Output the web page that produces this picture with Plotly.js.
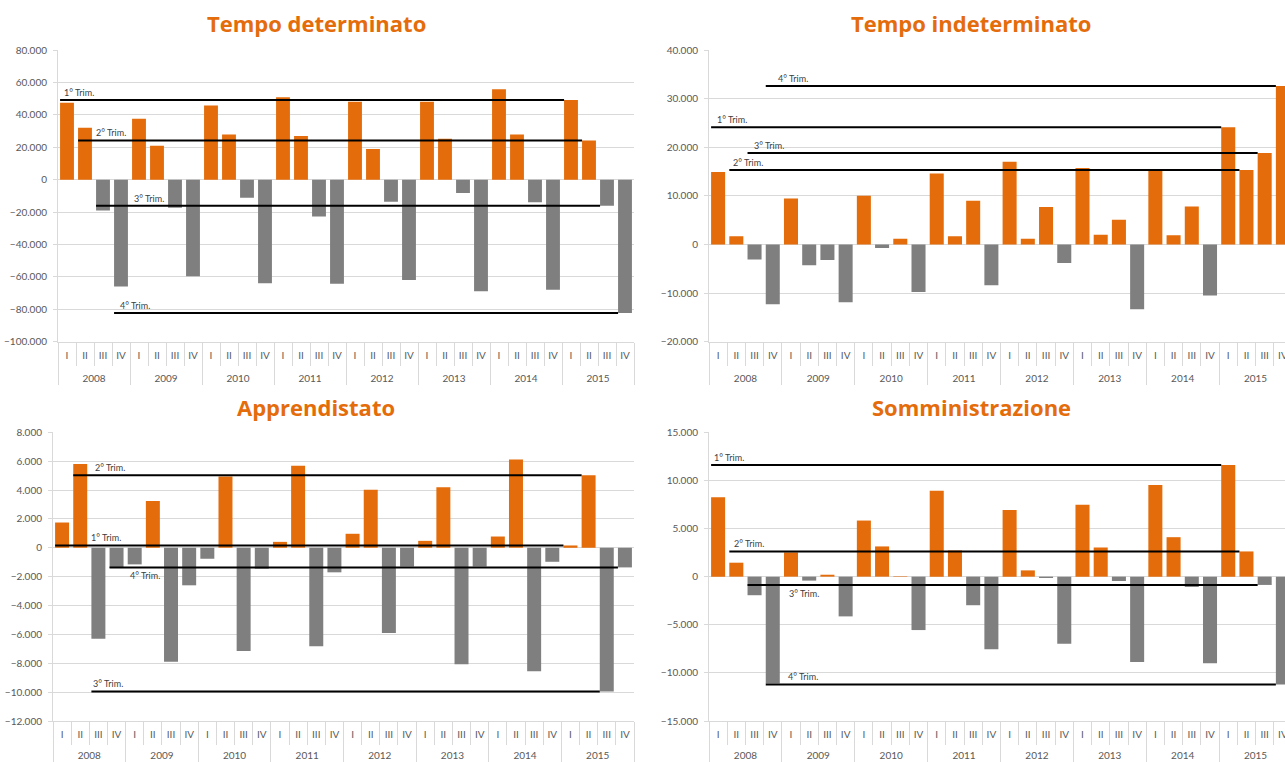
<!DOCTYPE html>
<html>
<head>
<meta charset="utf-8">
<script src="https://cdn.plot.ly/plotly-3.0.1.min.js"></script>
<style>
html,body{margin:0;padding:0;overflow:hidden;background:#fff}
#chart{width:1300px;height:762px}
</style>
</head>
<body>
<div id="chart"></div>
<script>
// ---- data ----
const years = ['2008','2009','2010','2011','2012','2013','2014','2015'];
const quarters = ['I','II','III','IV'];
const trimLabels = ['1° Trim.','2° Trim.','3° Trim.','4° Trim.'];
const titles = ['Tempo determinato','Tempo indeterminato','Apprendistato','Somministrazione'];

const tempoDeterminato = [47500, 32000, -19000, -66000, 37500, 20900, -17300, -59600,
  45700, 27900, -11100, -63900, 50900, 26900, -22700, -64300,
  48000, 18900, -13600, -61900, 48000, 25200, -8200, -68900,
  55800, 27900, -14000, -68000, 49200, 24200, -16100, -82300];
const tempoIndeterminato = [14900, 1700, -3100, -12300, 9450, -4300, -3200, -11900,
  10000, -750, 1200, -9800, 14600, 1700, 9000, -8400,
  17000, 1200, 7700, -3800, 15750, 2000, 5100, -13300,
  15200, 1900, 7800, -10500, 24100, 15300, 18800, 32600];
const apprendistato = [1750, 5800, -6300, -1400, -1150, 3240, -7900, -2600,
  -760, 4940, -7150, -1450, 410, 5680, -6830, -1700,
  970, 4020, -5900, -1300, 480, 4200, -8070, -1300,
  780, 6110, -8550, -970, 160, 5030, -9950, -1360];
const somministrazione = [8240, 1450, -1930, -11100, 2520, -410, 200, -4130,
  5830, 3140, 50, -5550, 8930, 2720, -2970, -7550,
  6930, 650, -140, -6970, 7480, 3030, -450, -8860,
  9520, 4100, -1070, -9000, 11590, 2620, -860, -11200];

// ---- layout config (positions / styles) ----
const W = 1300, H = 762;
const ORANGE = '#E46C0A', GREY = '#7F7F7F', GRID = '#D9D9D9', TXT = '#595959';
const BARGAP = 0.23;
const panels = [
  {values: tempoDeterminato, range: [-100000, 80000], dtick: 20000,
   box: [58, 634, 50, 341.7], titlePos: [316, 23], yearLen: 27,
   labelShift: [2, 16, 36, 4], labelSide: ['above','above','above','above']},
  {values: tempoIndeterminato, range: [-20000, 40000], dtick: 10000,
   box: [709, 1292, 50, 341.7], titlePos: [971, 23], yearLen: 27,
   labelShift: [4, 2, 4, 10], labelSide: ['above','above','above','above']},
  {values: apprendistato, range: [-12000, 8000], dtick: 2000,
   box: [53, 634, 432.3, 721], titlePos: [316, 407], yearLen: 25,
   labelShift: [34, 20, 0, 18], labelSide: ['above','above','above','below']},
  {values: somministrazione, range: [-15000, 15000], dtick: 5000,
   box: [709, 1292, 432.3, 721], titlePos: [971, 407], yearLen: 25,
   labelShift: [1, 3, 39, 20], labelSide: ['above','above','below','above']}
];

const nCat = years.length * quarters.length;
const idx = [], qText = [];
years.forEach((y, yi) => quarters.forEach((q, qi) => { idx.push(yi * quarters.length + qi); qText.push(q); }));
const bounds = []; for (let k = 0; k <= nCat; k++) bounds.push(k - 0.5);
const yearCenters = years.map((y, yi) => yi * quarters.length + (quarters.length - 1) / 2);
const yearBounds = []; for (let k = 0; k <= years.length; k++) yearBounds.push(k * quarters.length - 0.5);
const half = (1 - BARGAP) / 2;

const tickFont = {family: 'Lato, "Open Sans", sans-serif', size: 10, color: TXT};
const data = [];
const layout = {
  width: W, height: H, margin: {l: 0, r: 0, t: 0, b: 0},
  paper_bgcolor: '#fff', plot_bgcolor: '#fff',
  showlegend: false, bargap: BARGAP, separators: ',.',
  annotations: [], font: tickFont
};

panels.forEach((p, i) => {
  const n = i + 1;
  const xa = 'x' + (n === 1 ? '' : n), ya = 'y' + (n === 1 ? '' : n);
  const xYear = 'x' + (n + 4);
  const xdom = [p.box[0] / W, p.box[1] / W];
  const ydom = [1 - p.box[3] / H, 1 - p.box[2] / H];
  const rng = [-0.5, nCat - 0.5];

  layout['xaxis' + (n === 1 ? '' : n)] = {
    domain: xdom, anchor: ya, range: rng, type: 'linear', fixedrange: true,
    showgrid: false, zeroline: false, showline: true, linecolor: GRID, linewidth: 1,
    tickmode: 'array', tickvals: idx, ticktext: qText,
    ticks: 'outside', ticklen: 4, tickcolor: 'rgba(0,0,0,0)', tickfont: tickFont,
    minor: {tickmode: 'array', tickvals: bounds, ticks: 'outside', ticklen: 23,
            tickcolor: GRID, tickwidth: 1, showgrid: false}
  };
  layout['xaxis' + (n + 4)] = {
    overlaying: xa, anchor: ya, side: 'bottom', range: rng, type: 'linear', fixedrange: true,
    showgrid: false, zeroline: false, showline: false,
    tickmode: 'array', tickvals: yearCenters, ticktext: years,
    ticks: 'outside', ticklen: p.yearLen, tickcolor: 'rgba(0,0,0,0)', tickfont: tickFont,
    minor: {tickmode: 'array', tickvals: yearBounds, ticks: 'outside', ticklen: 42,
            tickcolor: GRID, tickwidth: 1, showgrid: false}
  };
  layout['yaxis' + (n === 1 ? '' : n)] = {
    domain: ydom, anchor: xa, range: p.range, fixedrange: true,
    tickmode: 'linear', tick0: 0, dtick: p.dtick, tickformat: ',d',
    showgrid: true, gridcolor: GRID, gridwidth: 1, zeroline: false,
    showline: true, linecolor: GRID, linewidth: 1,
    ticks: 'outside', ticklen: 4, tickcolor: GRID, tickfont: tickFont,
    ticklabelstandoff: 4
  };

  data.push({
    type: 'bar', x: idx, y: p.values, xaxis: xa, yaxis: ya,
    marker: {color: p.values.map(v => v >= 0 ? ORANGE : GREY), line: {width: 0}},
    hoverinfo: 'skip'
  });
  data.push({type: 'scatter', x: [], y: [], xaxis: xYear, yaxis: ya, hoverinfo: 'skip'});

  quarters.forEach((q, qi) => {
    const last = (years.length - 1) * quarters.length + qi;
    const level = p.values[last];
    const x0 = qi - half, x1 = last - half;
    data.push({
      type: 'scatter', mode: 'lines', x: [x0, x1], y: [level, level],
      xaxis: xa, yaxis: ya, line: {color: '#000', width: 2}, hoverinfo: 'skip'
    });
    const above = p.labelSide[qi] === 'above';
    layout.annotations.push({
      xref: xa, yref: ya, x: x0, y: level, text: trimLabels[qi], showarrow: false,
      xanchor: 'left', yanchor: above ? 'bottom' : 'top',
      xshift: p.labelShift[qi], yshift: above ? 0 : -1,
      font: {family: 'Lato, "Open Sans", sans-serif', size: 9, color: '#404040'}
    });
  });

  layout.annotations.push({
    xref: 'paper', yref: 'paper', x: p.titlePos[0] / W, y: 1 - p.titlePos[1] / H,
    xanchor: 'center', yanchor: 'middle', showarrow: false, text: titles[i],
    font: {family: '"Open Sans", sans-serif', size: 22, color: ORANGE, weight: 'bold'}
  });
});

Plotly.newPlot('chart', data, layout, {displayModeBar: false, staticPlot: true});
</script>
</body>
</html>
